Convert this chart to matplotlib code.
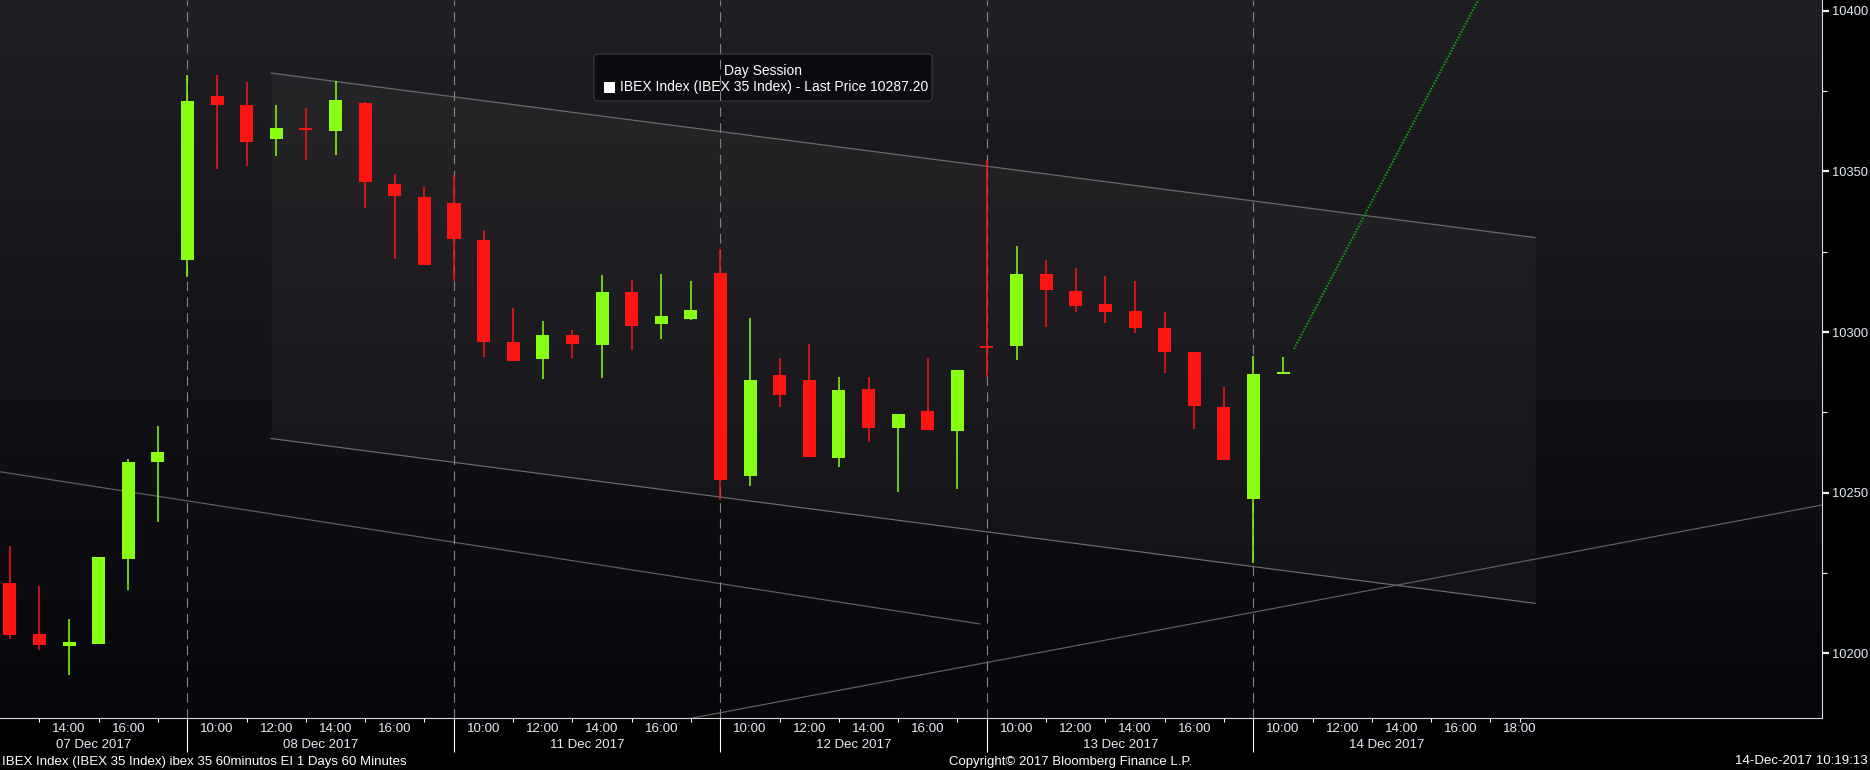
import numpy as np
import matplotlib
matplotlib.use("Agg")
import matplotlib.pyplot as plt
from matplotlib.colors import LinearSegmentedColormap
from matplotlib.patches import FancyBboxPatch, Rectangle
from matplotlib.transforms import IdentityTransform

plt.rcParams['font.family'] = ['Liberation Sans', 'DejaVu Sans']
plt.rcParams['lines.scale_dashes'] = False

W, H = 1870, 770

# sessions shown on the x axis (one slot per hourly bar, 09:00 .. 17:00)
day_labels = ["07 Dec 2017", "08 Dec 2017", "11 Dec 2017", "12 Dec 2017",
              "13 Dec 2017", "14 Dec 2017"]
SLOTS = 9
FIRST_HOUR = 9

# hourly bars: session index and hour
day = [0] * 6 + [1] * 9 + [2] * 9 + [3] * 9 + [4] * 9 + [5] * 2
hour = list(range(12, 18)) + list(range(9, 18)) * 4 + [9, 10]

opens = [10221.8, 10206.2, 10202.3, 10202.9, 10229.3, 10259.5,
         10322.5, 10373.4, 10370.7, 10360.2, 10363.3, 10362.7, 10371.3, 10346.0, 10342.1,
         10340.2, 10328.7, 10297.0, 10291.5, 10299.2, 10296.0, 10312.6, 10302.4, 10304.2,
         10318.4, 10255.3, 10286.7, 10285.1, 10260.9, 10282.3, 10270.3, 10275.5, 10269.3,
         10295.3, 10295.8, 10318.1, 10312.8, 10308.7, 10306.6, 10301.3, 10293.8, 10276.7,
         10248.2, 10287.2]
highs = [10233.3, 10221.1, 10210.6, 10229.9, 10260.4, 10270.8,
         10380.0, 10380.0, 10377.8, 10370.7, 10369.8, 10378.1, 10371.6, 10349.2, 10345.1,
         10348.9, 10331.8, 10307.6, 10303.5, 10300.8, 10317.8, 10316.2, 10318.2, 10315.9,
         10325.8, 10304.4, 10291.9, 10296.3, 10286.0, 10286.0, 10274.5, 10291.9, 10288.2,
         10353.5, 10326.8, 10322.4, 10319.9, 10317.5, 10315.9, 10306.3, 10293.8, 10283.0,
         10292.6, 10292.3]
lows = [10204.5, 10201.1, 10193.4, 10202.9, 10219.7, 10240.9,
        10317.1, 10350.9, 10351.8, 10354.8, 10353.6, 10355.1, 10338.5, 10322.7, 10320.9,
        10316.0, 10292.4, 10291.0, 10285.3, 10291.9, 10285.6, 10294.4, 10297.8, 10303.8,
        10247.8, 10252.2, 10276.8, 10261.2, 10258.1, 10265.9, 10250.3, 10269.6, 10251.3,
        10285.9, 10291.4, 10301.7, 10306.3, 10302.9, 10299.8, 10287.4, 10269.8, 10260.3,
        10228.1, 10287.2]
closes = [10205.8, 10202.6, 10203.7, 10229.9, 10259.7, 10262.8,
          10372.0, 10370.8, 10359.1, 10363.5, 10363.2, 10372.2, 10346.6, 10342.3, 10320.9,
          10329.1, 10296.9, 10291.0, 10299.2, 10296.2, 10312.6, 10301.8, 10305.1, 10306.9,
          10254.1, 10285.1, 10280.5, 10261.2, 10282.0, 10270.3, 10274.5, 10269.6, 10288.2,
          10295.2, 10318.1, 10313.2, 10308.2, 10306.3, 10301.4, 10293.9, 10277.1, 10260.3,
          10287.0, 10287.2]
last_price = 10287.20

# drawn studies (slot position, price)
channel_x = [11.82, 54.51]
channel_upper = [10380.6, 10329.4]
channel_lower = [10266.9, 10215.6]
trend_down_x = [2.0, 35.76]
trend_down_y = [10257.5, 10209.2]
trend_up_x = [25.0, 64.2]
trend_up_y = [10178.1, 10246.2]
proj_x = [46.37, 52.8]
proj_y = [10294.8, 10407.0]

hour_labels = ["10:00", "12:00", "14:00", "16:00"]
XLIM = (2.668, 64.2)
YLIM = (10179.93, 10403.33)

GREEN = '#88ff12'
RED = '#ff1414'
TXT = '#e4ecf8'

fig = plt.figure(figsize=(W / 100, H / 100), dpi=100, facecolor='black')
ax = fig.add_axes([0, 52 / H, 1822 / W, 718 / H])
ax.set_facecolor('black')

# background gradient
cmap = LinearSegmentedColormap.from_list('bg', ['#07070b', '#202024'])
ax.imshow(np.linspace(0, 1, 256)[:, None], extent=[XLIM[0], XLIM[1], YLIM[0], YLIM[1]],
          origin='lower', aspect='auto', cmap=cmap, zorder=0)

# channel + trend lines
ax.fill_between(channel_x, channel_lower, channel_upper, color='white', alpha=0.035, lw=0, zorder=1)
ax.plot(channel_x, channel_upper, color='#6a6a6c', lw=0.9, zorder=1.2)
ax.plot(channel_x, channel_lower, color='#6a6a6c', lw=0.9, zorder=1.2)
ax.plot(trend_down_x, trend_down_y, color='#5e5e60', lw=0.9, zorder=1.2)
ax.plot(trend_up_x, trend_up_y, color='#5e5e60', lw=0.9, zorder=1.2)
ax.plot(proj_x, proj_y, color='#0f9e0f', lw=1.5, ls=(0, (1.1, 1.1)), zorder=1.2)

# session separators
sep_x = [d * SLOTS for d in range(1, len(day_labels))]
for sx in sep_x:
    ax.axvline(sx, color='#858585', lw=0.8, ls=(0, (6.8, 4.6)), zorder=2)

# legend box
ax.add_patch(FancyBboxPatch((594, H - 101), 338, 47, boxstyle='round,pad=0,rounding_size=4',
                            transform=IdentityTransform(), fc='#0c0c10', ec='#3c3c40', lw=0.8,
                            zorder=1.5))
ax.text(763, H - 71.5, "Day Session", transform=IdentityTransform(), color='white',
        fontsize=10, ha='center', va='center', zorder=6)
ax.add_patch(Rectangle((603.5, H - 92.5), 11, 11, transform=IdentityTransform(),
                       fc='white', ec='none', zorder=6))
ax.text(619.5, H - 87, "IBEX Index (IBEX 35 Index) - Last Price %.2f" % last_price,
        transform=IdentityTransform(), color='white', fontsize=10, ha='left', va='center',
        zorder=6)

# candles
o = np.array(opens)
c = np.array(closes)
x = np.array(day) * SLOTS + (np.array(hour) - FIRST_HOUR)
up = c >= o
cols = np.where(up, GREEN, RED)
body_h = np.maximum(np.abs(c - o), 0.6)
body_b = (o + c) / 2 - body_h / 2
ax.vlines(x, lows, highs, colors=cols, lw=1.1, zorder=4)
ax.bar(x, body_h, bottom=body_b, width=0.44, color=cols, lw=0, zorder=5)

# y axis on the right
ax.yaxis.tick_right()
majors = np.arange(10200, 10401, 50)
ax.set_yticks(majors)
ax.set_yticks([v for v in np.arange(10200, 10401, 25) if v % 50], minor=True)
ax.set_yticklabels(["%d" % v for v in majors])
ax.tick_params(axis='y', which='major', length=5, width=1.6, colors='white',
               labelcolor=TXT, labelsize=9.3, pad=2.5)
ax.tick_params(axis='y', which='minor', length=3.5, width=0.8, colors='white')

# x axis: long ticks at session breaks, short ticks at odd hours
ax.set_xticks(sep_x)
ax.set_xticklabels([])
minor = []
for d in range(len(day_labels)):
    slots = [2, 4, 6, 8] + ([9] if d == len(day_labels) - 1 else [])
    minor += [d * SLOTS + s for s in slots if XLIM[0] < d * SLOTS + s < XLIM[1]]
ax.set_xticks(minor, minor=True)
ax.tick_params(axis='x', which='major', length=24.5, width=0.8, colors='white')
ax.tick_params(axis='x', which='minor', length=3, width=0.8, colors='white')

ax.set_xlim(*XLIM)
ax.set_ylim(*YLIM)

for sp in ['top', 'left']:
    ax.spines[sp].set_visible(False)
ax.spines['right'].set_color('#d8d8d8')
ax.spines['bottom'].set_color('#d8d8d8')
ax.spines['right'].set_linewidth(0.8)
ax.spines['bottom'].set_linewidth(0.8)

for d, lab in enumerate(day_labels):
    labs = hour_labels + (["18:00"] if d == len(day_labels) - 1 else [])
    for i, hl in enumerate(labs):
        hx = d * SLOTS + 1 + 2 * i
        if hx - 0.8 < XLIM[0]:
            continue
        ax.annotate(hl, xy=(hx, 0), xycoords=('data', 'axes fraction'), xytext=(0, -10.6),
                    textcoords='offset pixels', ha='center', va='center', color=TXT,
                    fontsize=9.6, annotation_clip=False)
    lo = max(d * SLOTS, XLIM[0])
    hi = min((d + 1) * SLOTS, XLIM[1])
    ax.annotate(lab, xy=((lo + hi) / 2, 0), xycoords=('data', 'axes fraction'),
                xytext=(0, -26.5), textcoords='offset pixels', ha='center', va='center',
                color=TXT, fontsize=9.5, annotation_clip=False)

# footer
fy = 1 - 761.5 / H
fig.text(2 / W, fy, "IBEX Index (IBEX 35 Index) ibex 35 60minutos EI 1 Days 60 Minutes",
         color='white', fontsize=9.5, ha='left', va='center')
fig.text(1071 / W, fy, "Copyright\u00a9 2017 Bloomberg Finance L.P.", color='white',
         fontsize=9.5, ha='center', va='center')
fig.text(1868 / W, fy, "14-Dec-2017 10:19:13", color='white', fontsize=9.5,
         ha='right', va='center')

fig.savefig("out.png", dpi=100, facecolor='black')
